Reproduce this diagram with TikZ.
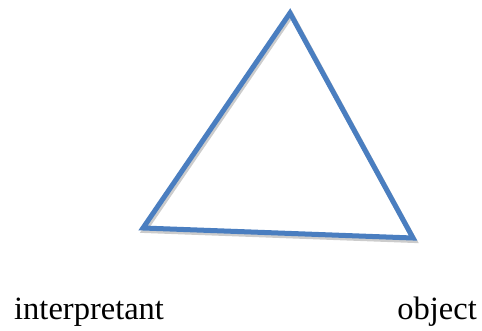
\documentclass[tikz,border=0pt]{standalone}
\usepackage{fontspec}
\setmainfont{Liberation Serif}
\usepackage{xcolor}
\usetikzlibrary{backgrounds}
\pgfdeclarelayer{edgelayer}
\pgfdeclarelayer{nodelayer}
\pgfsetlayers{background,edgelayer,nodelayer,main}
\definecolor{signblue}{RGB}{74,126,192}
\tikzstyle{none}=[inner sep=0mm]
\tikzstyle{label text}=[inner sep=0mm,font=\fontsize{32.5}{36}\selectfont,text=black]
\tikzstyle{side}=[draw=signblue,line width=5pt,line join=miter,line cap=round]
\tikzstyle{side shadow}=[draw=black!20,line width=5pt,line join=miter]

\begin{document}
\begin{tikzpicture}[x=1pt,y=-1pt]
	\useasboundingbox (0,0) rectangle (482,331);
	\begin{pgfonlayer}{nodelayer}
		\coordinate (0) at (290, 13);
		\coordinate (1) at (143, 228);
		\coordinate (2) at (413, 238);
		\coordinate (3) at (291.5, 15);
		\coordinate (4) at (144.5, 230.5);
		\coordinate (5) at (414.5, 240.5);
		\node [style=label text, anchor=base west] (6) at (14, 319) {interpretant};
		\node [style=label text, anchor=base east] (7) at (477, 319) {object};
	\end{pgfonlayer}
	\begin{pgfonlayer}{edgelayer}
		\draw [style=side shadow] (3) -- (4) -- (5) -- cycle;
		\draw [style=side] (0) -- (1) -- (2) -- cycle;
	\end{pgfonlayer}
\end{tikzpicture}
\end{document}
